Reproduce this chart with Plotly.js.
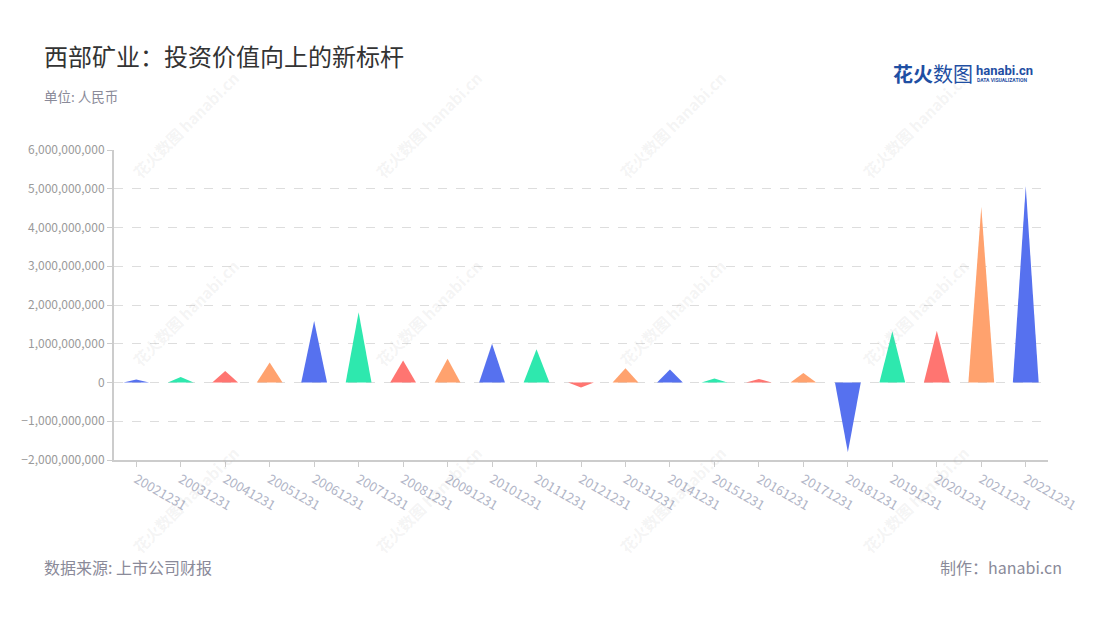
<!DOCTYPE html>
<html>
<head>
<meta charset="utf-8">
<script src="https://cdn.plot.ly/plotly-3.0.1.min.js"></script>
<style>html,body{margin:0;padding:0;background:#fff;}#chart{width:1100px;height:620px;}</style>
</head>
<body>
<div id="chart"></div>
<script>
const categories = ["20021231","20031231","20041231","20051231","20061231","20071231","20081231","20091231","20101231","20111231","20121231","20131231","20141231","20151231","20161231","20171231","20181231","20191231","20201231","20211231","20221231"];
const values = [80000000,145000000,300000000,515000000,1590000000,1815000000,568000000,610000000,1000000000,860000000,-130000000,370000000,335000000,103000000,93000000,248000000,-1800000000,1324000000,1333000000,4532000000,5066000000];
const palette = ["#5671ef","#2ee8ae","#ff7571","#ffa26e"];
const yTicks = [-2000000000,-1000000000,0,1000000000,2000000000,3000000000,4000000000,5000000000,6000000000];

const FONT = "'Noto Sans CJK SC', 'Noto Sans', sans-serif";
const halfW = 0.29;

const traces = categories.map((c, i) => ({
  type: 'scatter',
  mode: 'lines',
  x: [i - halfW, i, i + halfW, i - halfW],
  y: [0, values[i], 0, 0],
  fill: 'toself',
  fillcolor: palette[i % palette.length],
  line: {width: 0, color: palette[i % palette.length]},
  hoverinfo: 'skip',
  showlegend: false
}));

const PX = xx => (xx - 114) / 934;
const PY = yy => (460 - yy) / 310;

const annotations = [];
// watermarks
const wmX = [185, 428, 672, 915];
const wmY = [125, 313, 500];
wmY.forEach(yy => wmX.forEach(xx => {
  annotations.push({
    xref: 'paper', yref: 'paper',
    x: PX(xx), y: PY(yy), xanchor: 'center', yanchor: 'middle',
    text: '<b>花火数图</b> <b>hanabi.cn</b>',
    showarrow: false, textangle: -45,
    font: {family: FONT, size: 15.5, color: 'rgba(150,150,150,0.11)'}
  });
}));

annotations.push(
  {xref:'paper', yref:'paper', x:PX(42), y:PY(55), xanchor:'left', yanchor:'middle',
   text:'西部矿业：投资价值向上的新标杆', showarrow:false, font:{family:FONT, size:24, color:'#333333'}},
  {xref:'paper', yref:'paper', x:PX(42), y:PY(96), xanchor:'left', yanchor:'middle',
   text:'单位: 人民币', showarrow:false, font:{family:FONT, size:13.5, color:'#8a8a99'}},
  {xref:'paper', yref:'paper', x:PX(42), y:PY(567), xanchor:'left', yanchor:'middle',
   text:'数据来源: 上市公司财报', showarrow:false, font:{family:FONT, size:16, color:'#8a8a99'}},
  {xref:'paper', yref:'paper', x:PX(1064), y:PY(567), xanchor:'right', yanchor:'middle',
   text:'制作：hanabi.cn', showarrow:false, font:{family:FONT, size:16, color:'#8a8a99'}},
  {xref:'paper', yref:'paper', x:PX(891), y:PY(73), xanchor:'left', yanchor:'middle',
   text:'<b>花火</b>数图', showarrow:false, font:{family:FONT, size:20, color:'#1f4fa3'}},
  {xref:'paper', yref:'paper', x:PX(974), y:PY(70), xanchor:'left', yanchor:'middle',
   text:'<b>hanabi.cn</b>', showarrow:false, font:{family:"Roboto, sans-serif", size:13, color:'#1f4fa3'}},
  {xref:'paper', yref:'paper', x:PX(975), y:PY(80), xanchor:'left', yanchor:'middle',
   text:'<b>DATA VISUALIZATION</b>', showarrow:false, font:{family:"Roboto, sans-serif", size:5, color:'#1f4fa3'}}
);

const layout = {
  width: 1100, height: 620,
  margin: {l: 114, r: 52, t: 150, b: 160},
  paper_bgcolor: '#ffffff', plot_bgcolor: '#ffffff',
  font: {family: FONT},
  showlegend: false,
  xaxis: {
    range: [-0.5, categories.length - 0.5],
    tickmode: 'array',
    tickvals: categories.map((c, i) => i),
    ticktext: categories,
    tickangle: 30,
    tickfont: {family: FONT, size: 13, color: '#b0b4c6'},
    showgrid: false, zeroline: false,
    showline: true, linecolor: '#cccccc', linewidth: 2,
    ticks: 'outside', ticklen: 5, tickcolor: '#cccccc', tickwidth: 1,
    fixedrange: true
  },
  yaxis: {
    range: [-2000000000, 6000000000],
    tickmode: 'array',
    tickvals: yTicks,
    tickformat: ',d',
    tickfont: {family: FONT, size: 12, color: '#9a9a9a'},
    showgrid: true, gridcolor: '#dddddd', griddash: 'dash', gridwidth: 1,
    zeroline: false,
    showline: true, linecolor: '#cccccc', linewidth: 2,
    ticks: 'outside', ticklen: 5, tickcolor: '#cccccc',
    fixedrange: true
  },
  annotations: annotations
};

Plotly.newPlot('chart', traces, layout, {displayModeBar: false, staticPlot: true});
</script>
</body>
</html>
